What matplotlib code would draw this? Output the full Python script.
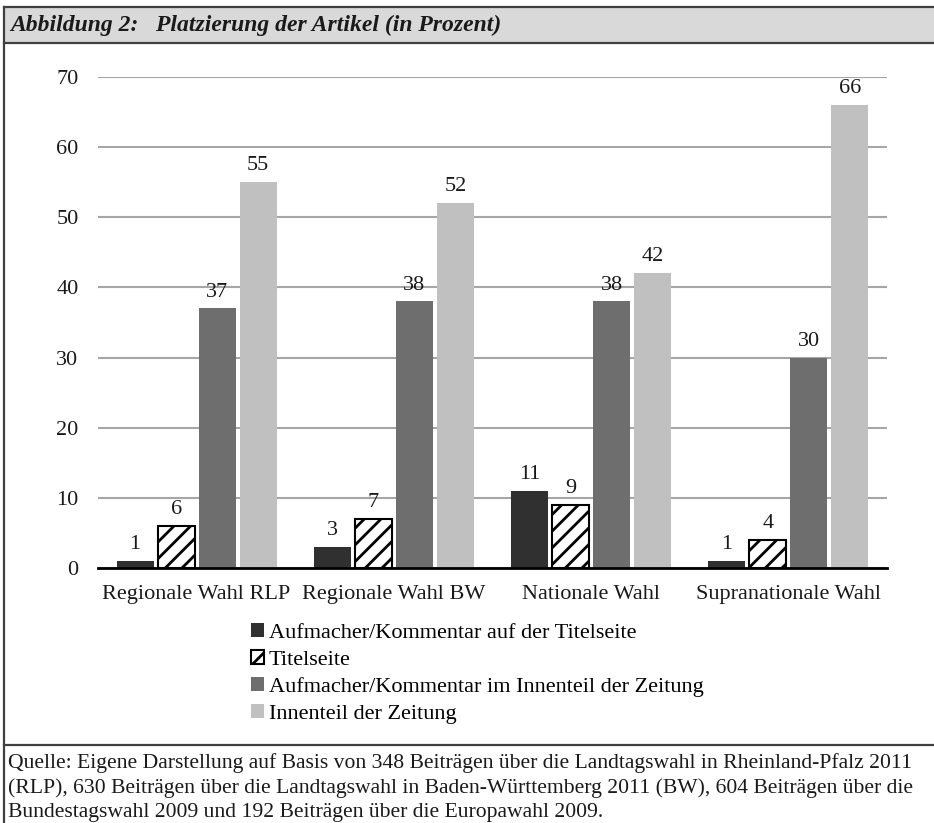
import numpy as np
import matplotlib
matplotlib.use("Agg")
import matplotlib.pyplot as plt
from matplotlib.lines import Line2D
from matplotlib.patches import Rectangle

# data
categories = ["Regionale Wahl RLP", "Regionale Wahl BW", "Nationale Wahl", "Supranationale Wahl"]
series_names = [
    "Aufmacher/Kommentar auf der Titelseite",
    "Titelseite",
    "Aufmacher/Kommentar im Innenteil der Zeitung",
    "Innenteil der Zeitung",
]
aufmacher_titel = [1, 3, 11, 1]
titelseite = [6, 7, 9, 4]
aufmacher_innen = [37, 38, 38, 30]
innenteil = [55, 52, 42, 66]
y_ticks = [0, 10, 20, 30, 40, 50, 60, 70]

title = "Abbildung 2:   Platzierung der Artikel (in Prozent)"
source_lines = [
    "Quelle: Eigene Darstellung auf Basis von 348 Beiträgen über die Landtagswahl in Rheinland-Pfalz 2011",
    "(RLP), 630 Beiträgen über die Landtagswahl in Baden-Württemberg 2011 (BW), 604 Beiträgen über die",
    "Bundestagswahl 2009 und 192 Beiträgen über die Europawahl 2009.",
]

plt.rcParams["font.family"] = ["Liberation Serif", "DejaVu Serif"]
plt.rcParams["hatch.linewidth"] = 2.0

W, H = 934, 823
fig = plt.figure(figsize=(W / 100, H / 100), dpi=100)
fig.patch.set_facecolor("white")

def fx(px):
    return px / W

def fy(py):
    return 1 - py / H

# ── frame and title bar ──────────────────────────────────────────────────
frame_col = "#404040"
fig.patches.append(Rectangle((fx(4), fy(43)), 1, fy(7) - fy(43), transform=fig.transFigure,
                             facecolor="#d9d9d9", edgecolor="none", zorder=0))
for (x0, y0, x1, y1) in [(4, 7, 940, 7), (4, 43, 940, 43), (4, 7, 4, 830), (4, 745, 940, 745)]:
    fig.add_artist(Line2D([fx(x0), fx(x1)], [fy(y0), fy(y1)], transform=fig.transFigure,
                          color=frame_col, lw=1.6))
fig.text(fx(10), fy(25), title, fontsize=17, style="italic", weight="bold",
         va="center", ha="left", color="#1a1a1a")

# ── bar chart ────────────────────────────────────────────────────────────
ax = fig.add_axes([fx(98), fy(568), fx(887) - fx(98), fy(77) - fy(568)])
x = np.arange(len(categories))
step = 0.208
width = 0.187
styles = [
    dict(color="#303030"),
    dict(facecolor="white", edgecolor="black", hatch="//", linewidth=1.5),
    dict(color="#6e6e6e"),
    dict(color="#c0c0c0"),
]
values = [aufmacher_titel, titelseite, aufmacher_innen, innenteil]
for i, (vals, st, name) in enumerate(zip(values, styles, series_names)):
    pos = x + (i - 1.5) * step
    bars = ax.bar(pos, vals, width, label=name, zorder=3, **st)
    for b, v in zip(bars, vals):
        ax.annotate(str(v), (b.get_x() + b.get_width() / 2, v), xytext=(0, 5),
                    textcoords="offset points", ha="center", va="bottom",
                    fontsize=16, color="#1a1a1a")

ax.set_xlim(-0.5, 3.5)
ax.set_ylim(0, 70)
ax.set_yticks(y_ticks)
ax.set_xticks(x)
ax.set_xticklabels(categories)
ax.tick_params(axis="both", length=0, labelsize=16, colors="#1a1a1a")
ax.tick_params(axis="y", pad=14)
ax.tick_params(axis="x", pad=12)
ax.grid(axis="y", color="#a6a6a6", lw=1.5, zorder=0)
for s in ["top", "right", "left"]:
    ax.spines[s].set_visible(False)
ax.spines["bottom"].set_color("black")
ax.spines["bottom"].set_linewidth(2)
ax.spines["bottom"].set_zorder(4)
ax.set_facecolor("none")

leg = fig.legend(loc="upper left", bbox_to_anchor=(fx(251), fy(623)), frameon=False,
                 fontsize=16, handlelength=0.6, handleheight=0.6, handletextpad=0.2,
                 labelspacing=0.32, borderaxespad=0, borderpad=0)

# ── source ───────────────────────────────────────────────────────────────
for k, line in enumerate(source_lines):
    fig.text(fx(8), fy(763 + k * 24.8), line, fontsize=15.6, va="center", ha="left",
             color="#1a1a1a")

fig.savefig("out.png", dpi=100)
